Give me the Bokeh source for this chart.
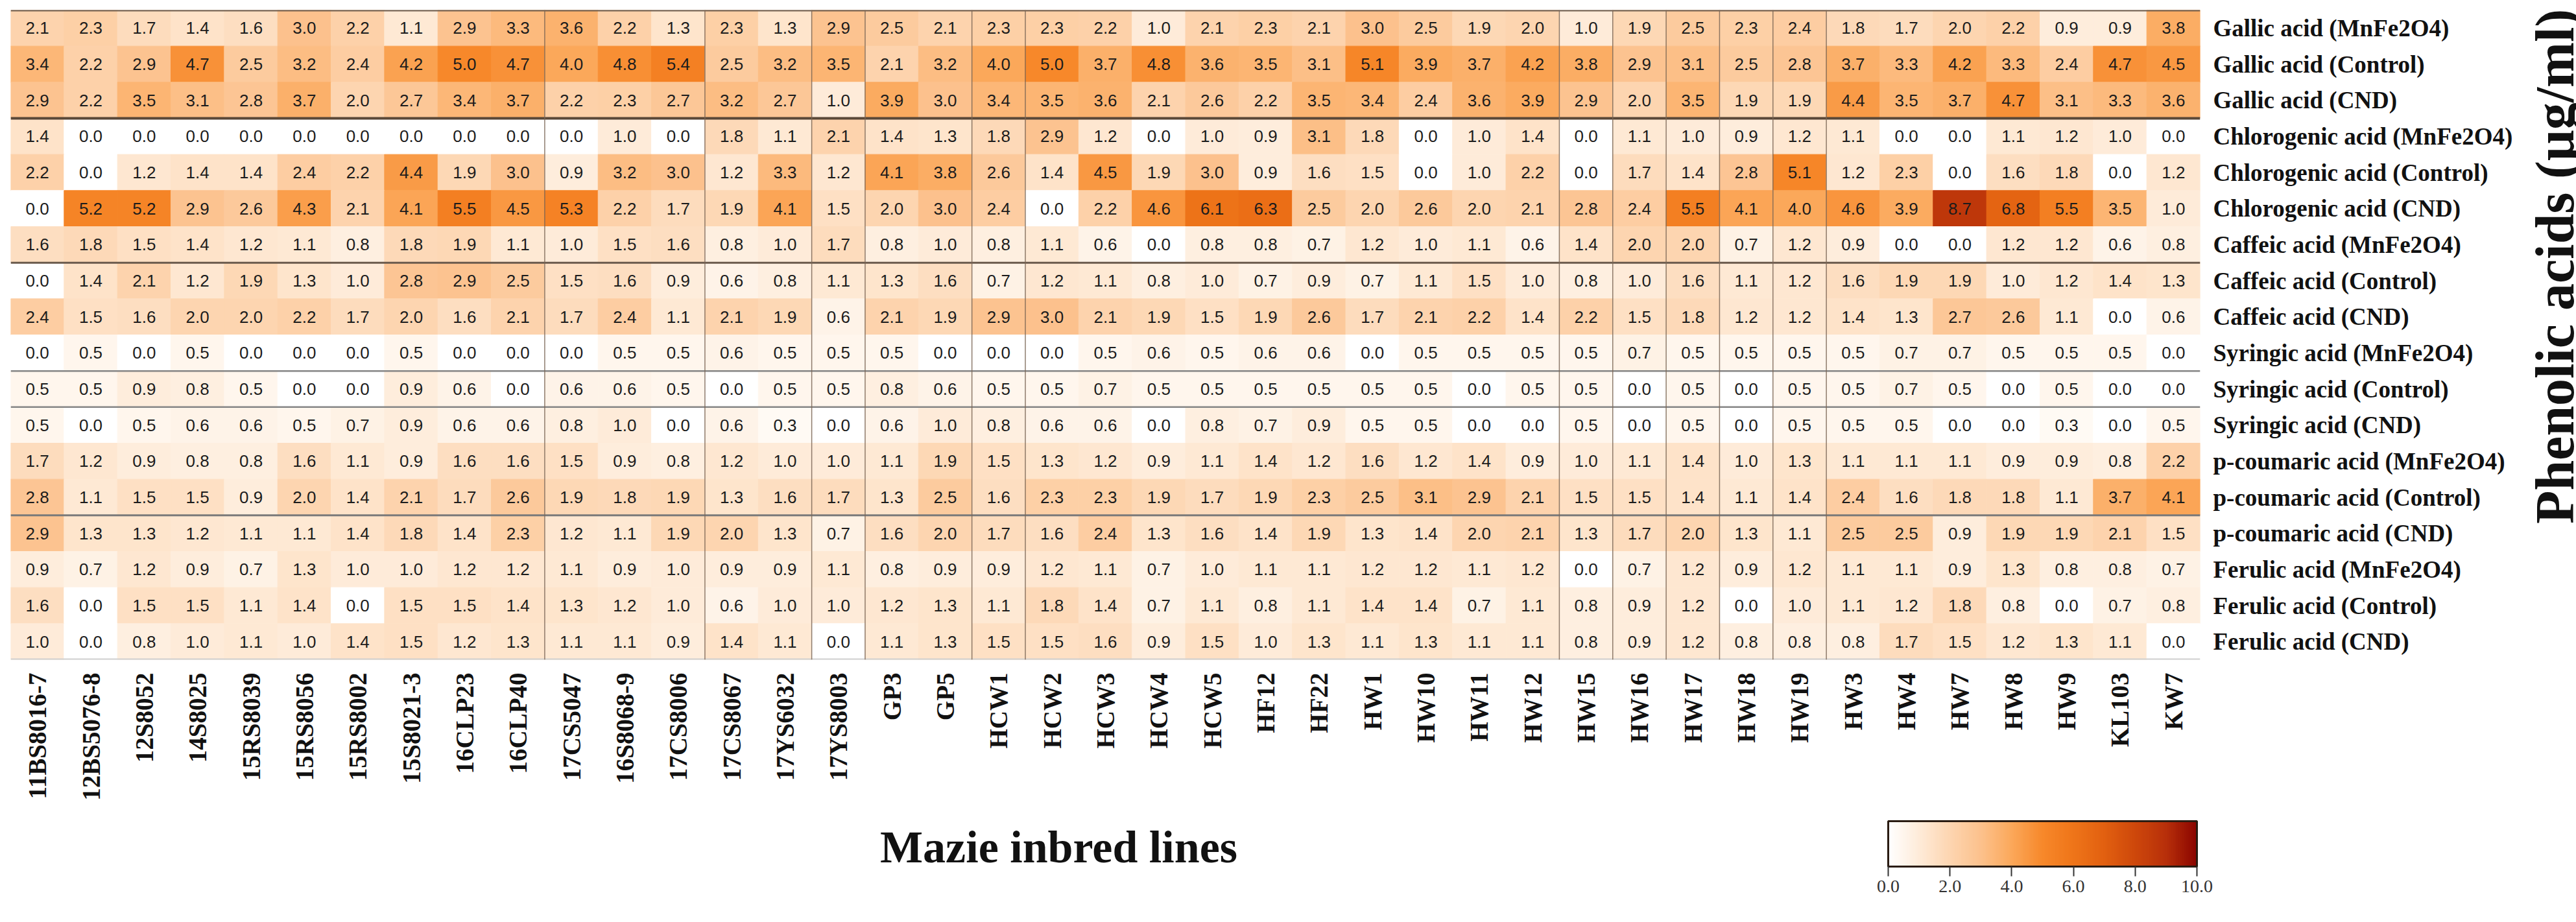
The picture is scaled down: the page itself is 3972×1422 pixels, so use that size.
import math
from bokeh.plotting import figure
from bokeh.models import (ColumnDataSource, LinearColorMapper, ColorBar, FixedTicker,
                          PrintfTickFormatter, Span, Label, Range1d, FactorRange)
from bokeh.layouts import column, row
from bokeh.core.properties import value
from bokeh.embed import file_html
from bokeh.resources import INLINE

# ---------------- data ----------------
inbred_lines = ["11BS8016-7", "12BS5076-8", "12S8052", "14S8025", "15RS8039", "15RS8056",
                "15RS8002", "15S8021-3", "16CLP23", "16CLP40", "17CS5047", "16S8068-9",
                "17CS8006", "17CS8067", "17YS6032", "17YS8003", "GP3", "GP5", "HCW1", "HCW2",
                "HCW3", "HCW4", "HCW5", "HF12", "HF22", "HW1", "HW10", "HW11", "HW12", "HW15",
                "HW16", "HW17", "HW18", "HW19", "HW3", "HW4", "HW7", "HW8", "HW9", "KL103", "KW7"]

acid_labels = ["Gallic acid (MnFe2O4)", "Gallic acid (Control)", "Gallic acid (CND)",
               "Chlorogenic acid (MnFe2O4)", "Chlorogenic acid (Control)", "Chlorogenic acid (CND)",
               "Caffeic acid (MnFe2O4)", "Caffeic acid (Control)", "Caffeic acid (CND)",
               "Syringic acid (MnFe2O4)", "Syringic acid (Control)", "Syringic acid (CND)",
               "p-coumaric acid (MnFe2O4)", "p-coumaric acid (Control)", "p-coumaric acid (CND)",
               "Ferulic acid (MnFe2O4)", "Ferulic acid (Control)", "Ferulic acid (CND)"]

gallic_mnfe2o4 = [2.1, 2.3, 1.7, 1.4, 1.6, 3.0, 2.2, 1.1, 2.9, 3.3, 3.6, 2.2, 1.3, 2.3, 1.3, 2.9,
                  2.5, 2.1, 2.3, 2.3, 2.2, 1.0, 2.1, 2.3, 2.1, 3.0, 2.5, 1.9, 2.0,
                  1.0, 1.9, 2.5, 2.3, 2.4, 1.8, 1.7, 2.0, 2.2, 0.9, 0.9, 3.8]
gallic_control = [3.4, 2.2, 2.9, 4.7, 2.5, 3.2, 2.4, 4.2, 5.0, 4.7, 4.0, 4.8, 5.4, 2.5, 3.2, 3.5,
                  2.1, 3.2, 4.0, 5.0, 3.7, 4.8, 3.6, 3.5, 3.1, 5.1, 3.9, 3.7, 4.2,
                  3.8, 2.9, 3.1, 2.5, 2.8, 3.7, 3.3, 4.2, 3.3, 2.4, 4.7, 4.5]
gallic_cnd = [2.9, 2.2, 3.5, 3.1, 2.8, 3.7, 2.0, 2.7, 3.4, 3.7, 2.2, 2.3, 2.7, 3.2, 2.7, 1.0,
              3.9, 3.0, 3.4, 3.5, 3.6, 2.1, 2.6, 2.2, 3.5, 3.4, 2.4, 3.6, 3.9,
              2.9, 2.0, 3.5, 1.9, 1.9, 4.4, 3.5, 3.7, 4.7, 3.1, 3.3, 3.6]
chlorogenic_mnfe2o4 = [1.4, 0.0, 0.0, 0.0, 0.0, 0.0, 0.0, 0.0, 0.0, 0.0, 0.0, 1.0, 0.0, 1.8, 1.1, 2.1,
                       1.4, 1.3, 1.8, 2.9, 1.2, 0.0, 1.0, 0.9, 3.1, 1.8, 0.0, 1.0, 1.4,
                       0.0, 1.1, 1.0, 0.9, 1.2, 1.1, 0.0, 0.0, 1.1, 1.2, 1.0, 0.0]
chlorogenic_control = [2.2, 0.0, 1.2, 1.4, 1.4, 2.4, 2.2, 4.4, 1.9, 3.0, 0.9, 3.2, 3.0, 1.2, 3.3, 1.2,
                       4.1, 3.8, 2.6, 1.4, 4.5, 1.9, 3.0, 0.9, 1.6, 1.5, 0.0, 1.0, 2.2,
                       0.0, 1.7, 1.4, 2.8, 5.1, 1.2, 2.3, 0.0, 1.6, 1.8, 0.0, 1.2]
chlorogenic_cnd = [0.0, 5.2, 5.2, 2.9, 2.6, 4.3, 2.1, 4.1, 5.5, 4.5, 5.3, 2.2, 1.7, 1.9, 4.1, 1.5,
                   2.0, 3.0, 2.4, 0.0, 2.2, 4.6, 6.1, 6.3, 2.5, 2.0, 2.6, 2.0, 2.1,
                   2.8, 2.4, 5.5, 4.1, 4.0, 4.6, 3.9, 8.7, 6.8, 5.5, 3.5, 1.0]
caffeic_mnfe2o4 = [1.6, 1.8, 1.5, 1.4, 1.2, 1.1, 0.8, 1.8, 1.9, 1.1, 1.0, 1.5, 1.6, 0.8, 1.0, 1.7,
                   0.8, 1.0, 0.8, 1.1, 0.6, 0.0, 0.8, 0.8, 0.7, 1.2, 1.0, 1.1, 0.6,
                   1.4, 2.0, 2.0, 0.7, 1.2, 0.9, 0.0, 0.0, 1.2, 1.2, 0.6, 0.8]
caffeic_control = [0.0, 1.4, 2.1, 1.2, 1.9, 1.3, 1.0, 2.8, 2.9, 2.5, 1.5, 1.6, 0.9, 0.6, 0.8, 1.1,
                   1.3, 1.6, 0.7, 1.2, 1.1, 0.8, 1.0, 0.7, 0.9, 0.7, 1.1, 1.5, 1.0,
                   0.8, 1.0, 1.6, 1.1, 1.2, 1.6, 1.9, 1.9, 1.0, 1.2, 1.4, 1.3]
caffeic_cnd = [2.4, 1.5, 1.6, 2.0, 2.0, 2.2, 1.7, 2.0, 1.6, 2.1, 1.7, 2.4, 1.1, 2.1, 1.9, 0.6,
               2.1, 1.9, 2.9, 3.0, 2.1, 1.9, 1.5, 1.9, 2.6, 1.7, 2.1, 2.2, 1.4,
               2.2, 1.5, 1.8, 1.2, 1.2, 1.4, 1.3, 2.7, 2.6, 1.1, 0.0, 0.6]
syringic_mnfe2o4 = [0.0, 0.5, 0.0, 0.5, 0.0, 0.0, 0.0, 0.5, 0.0, 0.0, 0.0, 0.5, 0.5, 0.6, 0.5, 0.5,
                    0.5, 0.0, 0.0, 0.0, 0.5, 0.6, 0.5, 0.6, 0.6, 0.0, 0.5, 0.5, 0.5,
                    0.5, 0.7, 0.5, 0.5, 0.5, 0.5, 0.7, 0.7, 0.5, 0.5, 0.5, 0.0]
syringic_control = [0.5, 0.5, 0.9, 0.8, 0.5, 0.0, 0.0, 0.9, 0.6, 0.0, 0.6, 0.6, 0.5, 0.0, 0.5, 0.5,
                    0.8, 0.6, 0.5, 0.5, 0.7, 0.5, 0.5, 0.5, 0.5, 0.5, 0.5, 0.0, 0.5,
                    0.5, 0.0, 0.5, 0.0, 0.5, 0.5, 0.7, 0.5, 0.0, 0.5, 0.0, 0.0]
syringic_cnd = [0.5, 0.0, 0.5, 0.6, 0.6, 0.5, 0.7, 0.9, 0.6, 0.6, 0.8, 1.0, 0.0, 0.6, 0.3, 0.0,
                0.6, 1.0, 0.8, 0.6, 0.6, 0.0, 0.8, 0.7, 0.9, 0.5, 0.5, 0.0, 0.0,
                0.5, 0.0, 0.5, 0.0, 0.5, 0.5, 0.5, 0.0, 0.0, 0.3, 0.0, 0.5]
pcoumaric_mnfe2o4 = [1.7, 1.2, 0.9, 0.8, 0.8, 1.6, 1.1, 0.9, 1.6, 1.6, 1.5, 0.9, 0.8, 1.2, 1.0, 1.0,
                     1.1, 1.9, 1.5, 1.3, 1.2, 0.9, 1.1, 1.4, 1.2, 1.6, 1.2, 1.4, 0.9,
                     1.0, 1.1, 1.4, 1.0, 1.3, 1.1, 1.1, 1.1, 0.9, 0.9, 0.8, 2.2]
pcoumaric_control = [2.8, 1.1, 1.5, 1.5, 0.9, 2.0, 1.4, 2.1, 1.7, 2.6, 1.9, 1.8, 1.9, 1.3, 1.6, 1.7,
                     1.3, 2.5, 1.6, 2.3, 2.3, 1.9, 1.7, 1.9, 2.3, 2.5, 3.1, 2.9, 2.1,
                     1.5, 1.5, 1.4, 1.1, 1.4, 2.4, 1.6, 1.8, 1.8, 1.1, 3.7, 4.1]
pcoumaric_cnd = [2.9, 1.3, 1.3, 1.2, 1.1, 1.1, 1.4, 1.8, 1.4, 2.3, 1.2, 1.1, 1.9, 2.0, 1.3, 0.7,
                 1.6, 2.0, 1.7, 1.6, 2.4, 1.3, 1.6, 1.4, 1.9, 1.3, 1.4, 2.0, 2.1,
                 1.3, 1.7, 2.0, 1.3, 1.1, 2.5, 2.5, 0.9, 1.9, 1.9, 2.1, 1.5]
ferulic_mnfe2o4 = [0.9, 0.7, 1.2, 0.9, 0.7, 1.3, 1.0, 1.0, 1.2, 1.2, 1.1, 0.9, 1.0, 0.9, 0.9, 1.1,
                   0.8, 0.9, 0.9, 1.2, 1.1, 0.7, 1.0, 1.1, 1.1, 1.2, 1.2, 1.1, 1.2,
                   0.0, 0.7, 1.2, 0.9, 1.2, 1.1, 1.1, 0.9, 1.3, 0.8, 0.8, 0.7]
ferulic_control = [1.6, 0.0, 1.5, 1.5, 1.1, 1.4, 0.0, 1.5, 1.5, 1.4, 1.3, 1.2, 1.0, 0.6, 1.0, 1.0,
                   1.2, 1.3, 1.1, 1.8, 1.4, 0.7, 1.1, 0.8, 1.1, 1.4, 1.4, 0.7, 1.1,
                   0.8, 0.9, 1.2, 0.0, 1.0, 1.1, 1.2, 1.8, 0.8, 0.0, 0.7, 0.8]
ferulic_cnd = [1.0, 0.0, 0.8, 1.0, 1.1, 1.0, 1.4, 1.5, 1.2, 1.3, 1.1, 1.1, 0.9, 1.4, 1.1, 0.0,
               1.1, 1.3, 1.5, 1.5, 1.6, 0.9, 1.5, 1.0, 1.3, 1.1, 1.3, 1.1, 1.1,
               0.8, 0.9, 1.2, 0.8, 0.8, 0.8, 1.7, 1.5, 1.2, 1.3, 1.1, 0.0]

row_series = [gallic_mnfe2o4, gallic_control, gallic_cnd,
              chlorogenic_mnfe2o4, chlorogenic_control, chlorogenic_cnd,
              caffeic_mnfe2o4, caffeic_control, caffeic_cnd,
              syringic_mnfe2o4, syringic_control, syringic_cnd,
              pcoumaric_mnfe2o4, pcoumaric_control, pcoumaric_cnd,
              ferulic_mnfe2o4, ferulic_control, ferulic_cnd]

colorbar_ticks = [0, 2, 4, 6, 8, 10]

# ---------------- build source ----------------
xs, ys, vals, txt = [], [], [], []
for lab, series in zip(acid_labels, row_series):
    for line, v in zip(inbred_lines, series):
        xs.append(line)
        ys.append(lab)
        vals.append(v)
        txt.append("%.1f" % v)
src = ColumnDataSource(dict(x=xs, y=ys, val=vals, txt=txt))

# ---------------- colour map ----------------
anchors = ["#ffffff", "#feebd8", "#fdd5b0", "#fcc18c", "#fba85a", "#f7882a",
           "#ef7519", "#e26010", "#ce480b", "#b8300a", "#8b0500"]


def _rgb(h):
    return tuple(int(h[i:i + 2], 16) for i in (1, 3, 5))


palette = []
N = 256
for i in range(N):
    t = i / (N - 1) * (len(anchors) - 1)
    k = min(int(t), len(anchors) - 2)
    f = t - k
    a, b = _rgb(anchors[k]), _rgb(anchors[k + 1])
    palette.append("#%02x%02x%02x" % tuple(int(round(a[j] + (b[j] - a[j]) * f)) for j in range(3)))

mapper = LinearColorMapper(palette=palette, low=0, high=10)

SERIF = "Liberation Serif"
SANS = "Liberation Sans"

MAIN_H = 15 + 1002 + 225

# ---------------- main heatmap ----------------
p = figure(x_range=FactorRange(factors=inbred_lines),
           y_range=FactorRange(factors=acid_labels[::-1]),
           frame_width=3376, frame_height=1002,
           y_axis_location="right",
           toolbar_location=None, output_backend="svg",
           min_border_left=16, min_border_top=15, min_border_bottom=225, min_border_right=460)
p.outline_line_color = None
p.xgrid.visible = False
p.ygrid.visible = False
p.background_fill_color = "white"
p.border_fill_color = "white"

p.rect(x="x", y="y", width=1, height=1, source=src,
       fill_color={"field": "val", "transform": mapper},
       line_color={"field": "val", "transform": mapper}, line_width=1)
p.text(x="x", y="y", text="txt", source=src, text_align="center", text_baseline="middle",
       text_font=value(SANS), text_font_size="26px", text_color="#1c1c1c")

# separator lines (row / column boundaries)
n_rows = len(acid_labels)
h_seps = [(0, "#6b5a4c", 4), (3, "#5a4838", 4), (7, "#6a5a4c", 3), (10, "#858585", 2.5),
          (11, "#858585", 2.5), (14, "#7a7a7a", 3), (18, "#cfcfcf", 4)]
for k, col, w in h_seps:
    p.add_layout(Span(location=n_rows - k, dimension="width", line_color=col, line_width=w))
for k in [10, 13, 15, 16, 18, 19, 29, 30, 31, 32, 33, 34]:
    p.add_layout(Span(location=k, dimension="height", line_color="#7a6656",
                      line_width=1.5, line_alpha=0.85))

# x axis (inbred lines)
xa = p.xaxis[0]
xa.major_label_orientation = math.pi / 2
xa.major_label_text_font = SERIF
xa.major_label_text_font_style = "bold"
xa.major_label_text_font_size = "39px"
xa.major_label_text_color = "#111111"
xa.major_label_standoff = 14
xa.major_tick_line_color = None
xa.axis_line_color = None

# right y axis (phenolic acids)
ya = p.yaxis[0]
ya.major_label_text_font = SERIF
ya.major_label_text_font_style = "bold"
ya.major_label_text_font_size = "37px"
ya.major_label_text_color = "#111111"
ya.major_label_standoff = 14
ya.major_tick_line_color = None
ya.axis_line_color = None

# right-hand title panel
RW = 104
fr = figure(width=RW, height=MAIN_H, x_range=Range1d(0, RW), y_range=Range1d(0, MAIN_H),
            toolbar_location=None, output_backend="svg", min_border=0,
            x_axis_type=None, y_axis_type=None)
fr.outline_line_color = None
fr.add_layout(Label(x=62, y=MAIN_H - 490, text="Phenolic acids (\u03bcg/ml)", angle=math.pi / 2,
                    text_align="center", text_baseline="middle", text_font=SERIF,
                    text_font_style="bold", text_font_size="84px", text_color="#111111"))

# ---------------- bottom row: x title + colour bar ----------------
TW, TH = 2890, 160
ft = figure(width=TW - 3, height=TH, x_range=Range1d(0, TW - 3), y_range=Range1d(0, TH),
            toolbar_location=None, output_backend="svg", min_border=0,
            x_axis_type=None, y_axis_type=None)
ft.outline_line_color = None
ft.add_layout(Label(x=1632, y=96, text="Mazie inbred lines", text_align="center",
                    text_baseline="middle", text_font=SERIF, text_font_style="bold",
                    text_font_size="70px", text_color="#111111"))

fc = figure(width=560, height=TH, toolbar_location=None, output_backend="svg", min_border=0,
            x_axis_type=None, y_axis_type=None)
fc.outline_line_color = None
cb = ColorBar(color_mapper=mapper, orientation="horizontal", location="top_left",
              width=476, height=70, padding=24, margin=0,
              ticker=FixedTicker(ticks=colorbar_ticks),
              formatter=PrintfTickFormatter(format="%.1f"),
              major_tick_in=0, major_tick_out=15, major_tick_line_color="#333333",
              major_tick_line_width=2, minor_tick_line_color=None,
              bar_line_color="#2a1c12", bar_line_width=3, label_standoff=6,
              major_label_text_font=SERIF, major_label_text_font_size="28px",
              major_label_text_color="#333333",
              background_fill_color=None, border_line_color=None)
fc.add_layout(cb, "center")

layout = column(row(p, fr), row(ft, fc))
open("out.html", "w").write(file_html(layout, INLINE))
